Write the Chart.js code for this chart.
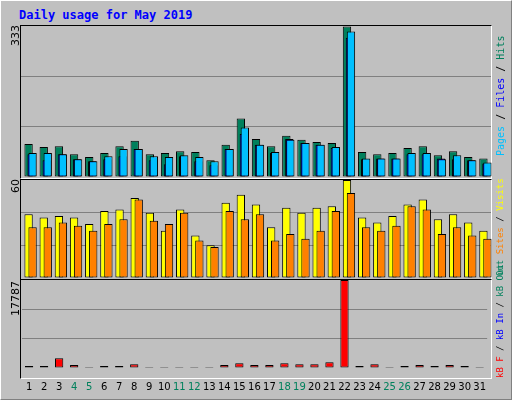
<!DOCTYPE html>
<html>
<head>
<meta charset="utf-8">
<script src="https://cdn.jsdelivr.net/npm/chart.js@4"></script>
<style>
  body { margin: 0; background: #c0c0c0; }
  #frame { position: absolute; left: 0; top: 0; width: 510px; height: 398px; border-top: 1px solid #fff; border-left: 1px solid #fff; border-right: 1px solid #808080; border-bottom: 1px solid #808080; background: #c0c0c0; }
  .title { position: absolute; left: 19px; top: 8px; font: bold 12px "DejaVu Sans Mono", monospace; color: #0000ff; }
  .panel { position: absolute; left: 20px; width: 470px; border-top: 1px solid #000; border-left: 1px solid #000; border-right: 1px solid #fff; border-bottom: 1px solid #fff; }
  .cv { position: absolute; width: 470px; }
  .ymax { position: absolute; font: 11px "DejaVu Sans", sans-serif; transform-origin: left top; transform: rotate(-90deg); white-space: nowrap; }
  .legend { position: absolute; left: 495px; font: 10px "DejaVu Sans Mono", monospace; transform-origin: left top; transform: rotate(-90deg); white-space: nowrap; }
</style>
</head>
<body>
<div id="frame"></div>
<div class="title">Daily usage for May 2019</div>

<div class="panel" style="top:25px;height:152px"></div>
<div class="panel" style="top:179px;height:99px"></div>
<div class="panel" style="top:279px;height:98px"></div>

<div id="charts"></div>

<div class="ymax" style="left:9px;top:46px">333</div>
<div class="ymax" style="left:9px;top:193px">60</div>
<div class="ymax" style="left:9px;top:316px">17787</div>

<div class="legend" style="top:156px"><span style="color:#00c0ff">Pages</span> / <span style="color:#0000ff">Files</span> / <span style="color:#00805c">Hits</span></div>
<div class="legend" style="top:276px;font-size:9px"><span style="color:#00805c">Out</span> <span style="color:#ff8000">Sites</span> / <span style="color:#ffff00">Visits</span></div>
<div class="legend" style="top:378px;font-size:9px"><span style="color:#ff0000">kB F</span> / <span style="color:#0000ff">kB In</span> / <span style="color:#00805c">kB Out</span></div>

<script>
const days = ["1","2","3","4","5","6","7","8","9","10","11","12","13","14","15","16","17","18","19","20","21","22","23","24","25","26","27","28","29","30","31"]
const weekendDays = [4, 5, 11, 12, 18, 19, 25, 26]
const hits = [73,66,68,50,44,53,68,80,50,53,57,55,37,71,129,84,68,91,82,77,75,332,55,50,53,64,68,48,57,44,41]
const pages = [50,37,50,39,35,39,46,62,37,28,46,35,26,62,95,71,53,84,75,71,64,307,39,41,41,50,50,41,39,37,30]
const files = [53,53,50,39,35,46,62,62,46,44,48,44,35,62,109,71,55,82,75,71,66,321,41,41,41,53,53,39,48,37,32]
const visits = [39,37,38,37,33,41,42,49,40,29,42,26,20,46,51,45,31,43,40,43,44,60,37,34,38,45,48,36,39,34,29]
const sites = [31,31,34,32,29,33,36,48,35,33,40,23,19,41,36,39,23,27,24,29,41,52,31,29,32,44,42,27,31,26,24]
const kbF = [391,391,1955,586,195,391,391,782,195,195,195,195,195,586,977,586,586,977,782,782,1173,17787,391,782,195,391,586,391,586,391,195]

Chart.defaults.font.family = "'DejaVu Sans', sans-serif"
Chart.defaults.font.size = 10

// one chart per series, stacked canvases shifted a few pixels to mimic the overlapping bars
function addChart(top, height, left, data, color, max, step, grid, showX) {
  const box = document.createElement("div")
  box.className = "cv"
  box.style.cssText = `top:${top}px;height:${height}px;left:${left}px`
  const canvas = document.createElement("canvas")
  box.appendChild(canvas)
  document.getElementById("charts").appendChild(box)

  new Chart(canvas, {
    type: "bar",
    data: {
      labels: days,
      datasets: [{ data, backgroundColor: color, borderColor: "#000", borderWidth: 1, borderSkipped: false, barPercentage: 0.55, categoryPercentage: 1 }]
    },
    options: {
      maintainAspectRatio: false,
      responsive: true,
      animation: false,
      layout: { padding: 0 },
      plugins: { legend: { display: false }, tooltip: { enabled: false } },
      scales: {
        x: {
          display: showX,
          grid: { display: false },
          border: { display: false },
          ticks: {
            color: ctx => weekendDays.includes(ctx.index + 1) ? "#00805c" : "#000",
            maxRotation: 0, autoSkip: false, padding: 5
          }
        },
        y: {
          min: 0, max,
          border: { display: false },
          grid: {
            color: ctx => !grid || ctx.tick.value === 0 || ctx.tick.value === max ? "transparent" : "#808080",
            drawTicks: false
          },
          ticks: { display: false, stepSize: step }
        }
      }
    }
  })
}

addChart(26, 151, 21, hits, "#00805c", 333, 111, true, false)
addChart(26, 151, 24, pages, "#0000ff", 333, 111, false, false)
addChart(26, 151, 25, files, "#00c0ff", 333, 111, false, false)

addChart(180, 98, 21, visits, "#ffff00", 60, 20, true, false)
addChart(180, 98, 25, sites, "#ff8000", 60, 20, false, false)

addChart(280, 118, 21, kbF, "#ff0000", 17787, 5929, true, true)
</script>
</body>
</html>
